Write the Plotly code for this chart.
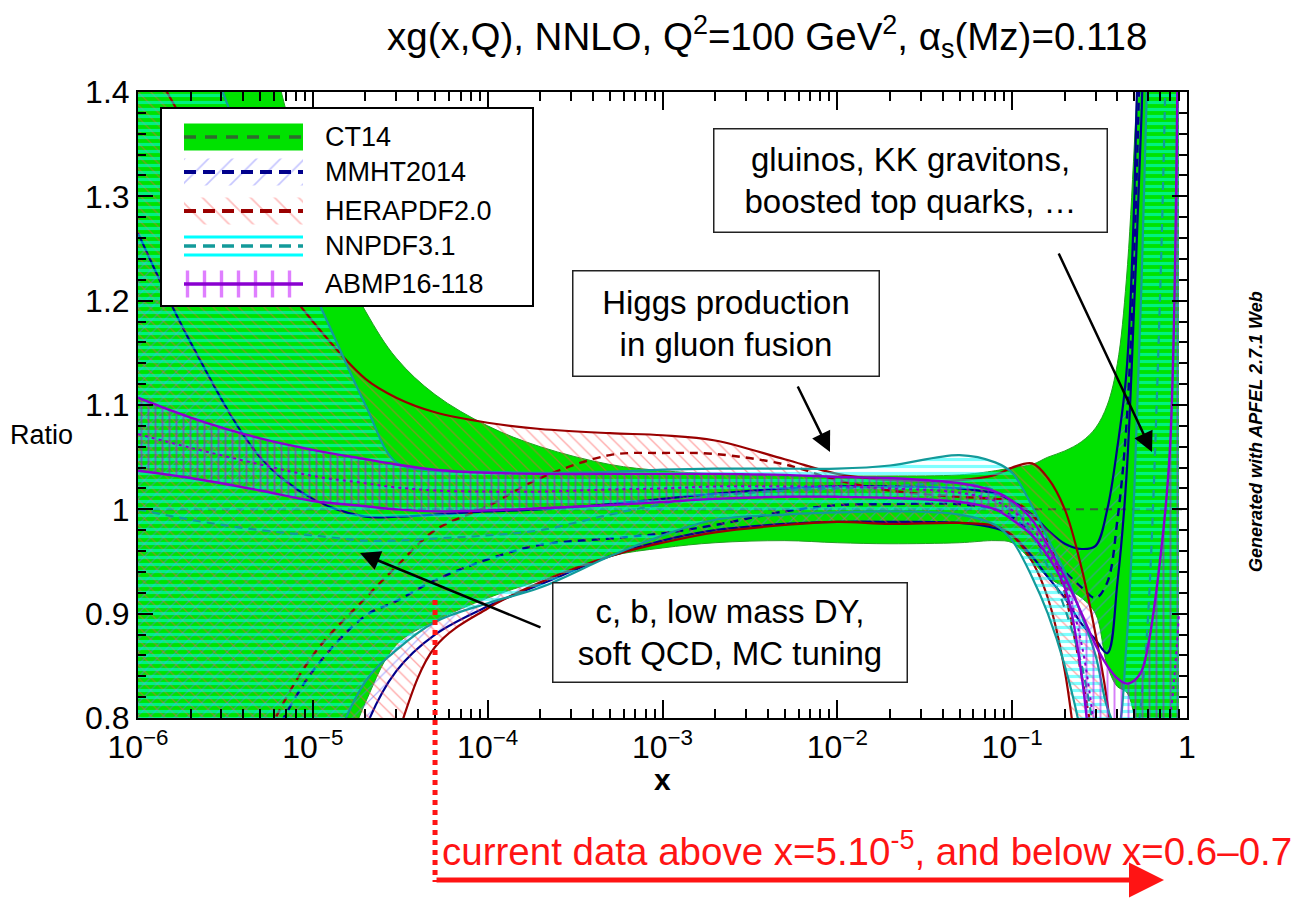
import plotly.graph_objects as go
import math

# ---------------- data (ratio to CT14) ----------------
X = [1e-6, 2e-6, 5e-6, 1e-5, 2e-5, 3e-5, 5e-5, 1e-4, 2e-4, 5e-4, 1e-3, 2e-3, 5e-3,
     1e-2, 2e-2, 5e-2, 0.08, 0.1, 0.13, 0.16, 0.2, 0.25, 0.3, 0.35, 0.4, 0.45,
     0.5, 0.55, 0.6, 0.7, 0.8, 0.9]

CT14_UP = [1.62, 1.56, 1.46, 1.29, 1.19, 1.145, 1.11, 1.08, 1.06, 1.043, 1.037, 1.034, 1.032,
           1.032, 1.032, 1.033, 1.037, 1.040, 1.043, 1.050, 1.056, 1.065, 1.078, 1.10, 1.14, 1.22,
           1.35, 1.5, 1.65, 1.8, 1.9, 1.95]
CT14_LO = [0.6, 0.6, 0.6, 0.68, 0.815, 0.87, 0.893, 0.915, 0.932, 0.955, 0.963, 0.968, 0.97,
           0.968, 0.967, 0.968, 0.97, 0.968, 0.95, 0.935, 0.925, 0.915, 0.9, 0.85, 0.83, 0.825,
           0.8, 0.7, 0.6, 0.55, 0.5, 0.5]
CT14_CX = [1e-6, 1.0]
CT14_CY = [1.0, 1.0]

MMHT_UP = [1.265, 1.16, 1.05, 1.01, 0.993, 0.993, 0.995, 0.998, 1.0, 1.005, 1.01, 1.015, 1.02,
           1.022, 1.022, 1.02, 1.015, 1.008, 0.995, 0.98, 0.967, 0.962, 0.965, 1.0, 1.06, 1.13,
           1.3, 1.6, 1.8, 1.9, 1.95, 2.0]
MMHT_LO = [0.4, 0.4, 0.45, 0.6, 0.79, 0.845, 0.88, 0.907, 0.928, 0.955, 0.97, 0.98, 0.986,
           0.988, 0.988, 0.987, 0.982, 0.975, 0.955, 0.935, 0.915, 0.89, 0.875, 0.862, 0.93, 1.03,
           1.2, 1.38, 1.6, 1.9, 1.95, 2.0]
MMHT_C = [0.55, 0.65, 0.76, 0.845, 0.898, 0.912, 0.932, 0.952, 0.966, 0.972, 0.977, 0.985, 0.998,
          1.004, 1.005, 1.005, 1.0, 0.993, 0.975, 0.955, 0.94, 0.925, 0.915, 0.93, 0.99, 1.08,
          1.25, 1.5, 1.75, 1.9, 1.95, 2.0]

HERA_UP = [1.45, 1.36, 1.248, 1.18, 1.125, 1.107, 1.093, 1.083, 1.077, 1.073, 1.071, 1.066, 1.048,
           1.034, 1.028, 1.028, 1.033, 1.04, 1.044, 1.03, 1.0, 0.943, 0.88, 0.815, 0.72, 0.6,
           0.5, 0.5, 0.5, 0.5, 0.5, 0.5]
HERA_LO = [0.4, 0.4, 0.4, 0.5, 0.68, 0.78, 0.868, 0.905, 0.93, 0.955, 0.968, 0.978, 0.985,
           0.988, 0.986, 0.987, 0.984, 0.975, 0.95, 0.915, 0.845, 0.72, 0.6, 0.5, 0.5, 0.5,
           0.5, 0.5, 0.5, 0.5, 0.5, 0.5]
HERA_C = [0.45, 0.6, 0.77, 0.86, 0.915, 0.945, 0.98, 1.003, 1.03, 1.052, 1.054, 1.053, 1.043,
          1.028, 1.018, 1.012, 1.01, 1.008, 0.995, 0.97, 0.92, 0.84, 0.76, 0.65, 0.5, 0.5,
          0.5, 0.5, 0.5, 0.5, 0.5, 0.5]

NNPDF_UP = [1.6, 1.48, 1.31, 1.21, 1.10, 1.045, 1.037, 1.036, 1.035, 1.036, 1.038, 1.039, 1.039,
            1.039, 1.042, 1.052, 1.045, 1.035, 1.003, 0.972, 0.94, 0.898, 0.86, 0.81, 0.79, 0.87,
            1.02, 1.22, 1.45, 1.7, 1.9, 1.95]
NNPDF_LO = [0.55, 0.55, 0.55, 0.72, 0.835, 0.865, 0.892, 0.91, 0.925, 0.955, 0.975, 0.99, 0.995,
            0.997, 0.998, 0.995, 0.985, 0.97, 0.935, 0.9, 0.85, 0.78, 0.65, 0.5, 0.5, 0.5,
            0.5, 0.5, 0.5, 0.5, 0.5, 0.5]
NNPDF_C = [1.0, 0.99, 0.98, 0.975, 0.97, 0.97, 0.972, 0.975, 0.98, 0.995, 1.005, 1.013, 1.018,
           1.02, 1.022, 1.025, 1.018, 1.005, 0.975, 0.945, 0.905, 0.85, 0.78, 0.72, 0.7, 0.72,
           0.76, 0.82, 0.9, 1.2, 1.6, 1.9]

ABMP_UP = [1.107, 1.088, 1.068, 1.057, 1.048, 1.043, 1.038, 1.035, 1.034, 1.034, 1.034, 1.034, 1.033,
           1.031, 1.03, 1.025, 1.017, 1.008, 0.99, 0.965, 0.935, 0.9, 0.87, 0.85, 0.838, 0.833,
           0.836, 0.845, 0.87, 0.95, 1.06, 1.6]
ABMP_LO = [1.037, 1.03, 1.018, 1.008, 1.003, 1.0, 0.998, 0.999, 1.001, 1.004, 1.007, 1.01, 1.012,
           1.012, 1.011, 1.007, 1.0, 0.99, 0.975, 0.955, 0.925, 0.84, 0.7, 0.5, 0.5, 0.5,
           0.5, 0.5, 0.5, 0.5, 0.5, 0.5]
ABMP_C = [1.072, 1.059, 1.043, 1.032, 1.025, 1.021, 1.018, 1.017, 1.017, 1.019, 1.02, 1.022, 1.022,
          1.022, 1.02, 1.016, 1.008, 0.999, 0.982, 0.96, 0.93, 0.87, 0.78, 0.68, 0.65, 0.66,
          0.67, 0.68, 0.7, 0.75, 0.8, 0.9]

SERIES = ["CT14", "MMHT2014", "HERAPDF2.0", "NNPDF3.1", "ABMP16-118"]

XT = [1e-6, 1e-5, 1e-4, 1e-3, 1e-2, 1e-1, 1.0]
XT_TEXT = ["10<sup>\u22126</sup>", "10<sup>\u22125</sup>", "10<sup>\u22124</sup>", "10<sup>\u22123</sup>",
           "10<sup>\u22122</sup>", "10<sup>\u22121</sup>", "1"]
YT = [0.8, 0.9, 1.0, 1.1, 1.2, 1.3, 1.4]
YT_TEXT = ["0.8", "0.9", "1", "1.1", "1.2", "1.3", "1.4"]
X_DATA_LIMIT = 5e-5

# ---------------- styling ----------------
GREEN = "#00e200"
NAVY = "#00008c"
DRED = "#9a0000"
TEAL = "#139a9a"
PURP = "#8a00d0"
FONT = "Liberation Sans, Arial, Helvetica, sans-serif"

W, H = 1312, 909
L, R, T, B = 138, 1187, 92, 718


def fx(px):
    return (px - L) / (R - L)


def fy(py):
    return (B - py) / (B - T)


fig = go.Figure()


def add_band(lo, up, edge, ew, fillcolor=None, pattern=None):
    fig.add_trace(go.Scatter(x=X, y=lo, mode="lines",
                             line=dict(color=edge, width=ew, shape="spline"),
                             hoverinfo="skip", showlegend=False))
    kw = dict(fillcolor=fillcolor if fillcolor else "rgba(0,0,0,0)")
    if pattern:
        kw["fillpattern"] = pattern
    fig.add_trace(go.Scatter(x=X, y=up, mode="lines", fill="tonexty",
                             line=dict(color=edge, width=ew, shape="spline"),
                             hoverinfo="skip", showlegend=False, **kw))


def add_central(y, color, width=2.2, dash="8px,6px", x=None):
    fig.add_trace(go.Scatter(x=X if x is None else x, y=y, mode="lines",
                             line=dict(color=color, width=width, dash=dash, shape="spline"),
                             hoverinfo="skip", showlegend=False))


# CT14
add_band(CT14_LO, CT14_UP, "#22a022", 1, fillcolor=GREEN)
add_central(CT14_CY, "#3c5a3c", 2, x=CT14_CX)
# MMHT
add_band(MMHT_LO, MMHT_UP, NAVY, 2.2,
         pattern=dict(shape="/", fgcolor="#6b6bff", bgcolor="rgba(0,0,0,0)", size=9, solidity=0.14))
add_central(MMHT_C, NAVY, 2.4)
# HERAPDF
add_band(HERA_LO, HERA_UP, DRED, 2.2,
         pattern=dict(shape="\\", fgcolor="#ff4a4a", bgcolor="rgba(0,0,0,0)", size=9, solidity=0.14))
add_central(HERA_C, DRED, 2.4)
# NNPDF
add_band(NNPDF_LO, NNPDF_UP, TEAL, 2.2,
         pattern=dict(shape="-", fgcolor="#00ffff", bgcolor="rgba(0,0,0,0)", size=7, solidity=0.45))
add_central(NNPDF_C, TEAL, 2.2)
# ABMP
add_band(ABMP_LO, ABMP_UP, PURP, 2.4,
         pattern=dict(shape="|", fgcolor="#b000f0", bgcolor="rgba(0,0,0,0)", size=7, solidity=0.28))
add_central(ABMP_C, PURP, 2.0, dash="3px,4px")

# ---------------- legend (inset) ----------------
LEG_W, LEG_H = 370, 196
LEG_X0, LEG_X1 = 22, 141
LEG_YC = [168, 133, 94, 59, 21]
LEG_HALF = 13.5


def lx(series_x, series_y, **kw):
    fig.add_trace(go.Scatter(x=series_x, y=series_y, xaxis="x2", yaxis="y2",
                             hoverinfo="skip", showlegend=False, **kw))


lx([0, LEG_W, LEG_W, 0, 0], [0, 0, LEG_H, LEG_H, 0], mode="lines", fill="toself",
   fillcolor="white", line=dict(width=0))
rect_x = [LEG_X0, LEG_X1, LEG_X1, LEG_X0, LEG_X0]


def rect_y(c):
    return [c - LEG_HALF, c - LEG_HALF, c + LEG_HALF, c + LEG_HALF, c - LEG_HALF]


# CT14
lx(rect_x, rect_y(LEG_YC[0]), mode="lines", fill="toself", fillcolor=GREEN, line=dict(width=0))
lx([LEG_X0, LEG_X1], [LEG_YC[0]] * 2, mode="lines", line=dict(color="#2f6a2f", width=3.5, dash="12px,9px"))
# MMHT
lx(rect_x, rect_y(LEG_YC[1]), mode="lines", fill="toself", fillcolor="rgba(0,0,0,0)",
   fillpattern=dict(shape="/", fgcolor="#8c8cff", bgcolor="rgba(0,0,0,0)", size=17, solidity=0.1),
   line=dict(width=0))
lx([LEG_X0, LEG_X1], [LEG_YC[1]] * 2, mode="lines", line=dict(color=NAVY, width=4, dash="12px,7px"))
# HERAPDF
lx(rect_x, rect_y(LEG_YC[2]), mode="lines", fill="toself", fillcolor="rgba(0,0,0,0)",
   fillpattern=dict(shape="\\", fgcolor="#ff7a7a", bgcolor="rgba(0,0,0,0)", size=17, solidity=0.1),
   line=dict(width=0))
lx([LEG_X0, LEG_X1], [LEG_YC[2]] * 2, mode="lines", line=dict(color=DRED, width=4, dash="12px,7px"))
# NNPDF
lx([LEG_X0, LEG_X1], [LEG_YC[3] + 9] * 2, mode="lines", line=dict(color="#00ffff", width=3))
lx([LEG_X0, LEG_X1], [LEG_YC[3] - 9] * 2, mode="lines", line=dict(color="#00ffff", width=3))
lx([LEG_X0, LEG_X1], [LEG_YC[3]] * 2, mode="lines", line=dict(color=TEAL, width=3.5, dash="12px,7px"))
# ABMP
lx(rect_x, rect_y(LEG_YC[4]), mode="lines", fill="toself", fillcolor="rgba(0,0,0,0)",
   fillpattern=dict(shape="|", fgcolor="#c000ff", bgcolor="rgba(0,0,0,0)", size=17, solidity=0.2),
   line=dict(width=0))
lx([LEG_X0, LEG_X1], [LEG_YC[4]] * 2, mode="lines", line=dict(color=PURP, width=3.5))

annotations = []
for name, yc in zip(SERIES, LEG_YC):
    annotations.append(dict(x=161, y=yc, xref="x2", yref="y2", text=name, showarrow=False,
                            xanchor="left", yanchor="middle",
                            font=dict(family=FONT, size=27, color="black")))


def txt(px, py, text, size, color="black", xanchor="center", **kw):
    return dict(x=fx(px), y=fy(py), xref="paper", yref="paper", text=text, showarrow=False,
                xanchor=xanchor, yanchor="middle", font=dict(family=FONT, size=size, color=color), **kw)


# ---------------- text & arrows ----------------
annotations += [
    txt(767, 37, "xg(x,Q), NNLO, Q<sup>2</sup>=100 GeV<sup>2</sup>, \u03b1<sub>s</sub>(Mz)=0.118", 38.5),
    txt(41, 435, "Ratio", 27),
    txt(662, 779, "<b>x</b>", 30),
    txt(1256, 432, "<b><i>Generated with APFEL 2.7.1 Web</i></b>", 18, textangle=-90),
    txt(440, 849, "current data above x=5.10<sup>-5</sup>, and below x=0.6\u20130.7", 38.5,
        color="#ff1414", xanchor="left"),
]

BOXES = [
    ("gluinos, KK gravitons,<br>boosted top quarks, \u2026", 713, 128, 1108, 233),
    ("Higgs production<br>in gluon fusion", 572, 270, 880, 377),
    ("c, b, low mass DY,<br>soft QCD, MC tuning", 552, 582, 908, 683),
]
for t, x0, y0, x1, y1 in BOXES:
    annotations.append(txt((x0 + x1) / 2, (y0 + y1) / 2, t, 33, width=x1 - x0 - 3, height=y1 - y0 - 3,
                           bgcolor="white", bordercolor="#222222", borderwidth=1.5, borderpad=0))

ARROWS = [((1058, 252), (1152, 452)), ((797, 385), (830, 452)), ((542, 628), (360, 553))]
for (tx, ty), (hx, hy) in ARROWS:
    annotations.append(dict(x=fx(hx), y=fy(hy), xref="paper", yref="paper", ax=tx - hx, ay=ty - hy,
                            axref="pixel", ayref="pixel", showarrow=True, arrowhead=2,
                            arrowsize=1.6, arrowwidth=2.5, arrowcolor="black", text=""))

x_lim_paper = (math.log10(X_DATA_LIMIT) + 6) / 6
annotations.append(dict(x=fx(1164), y=fy(880), xref="paper", yref="paper",
                        ax=(L + x_lim_paper * (R - L)) - 1164, ay=0, axref="pixel", ayref="pixel",
                        showarrow=True, arrowhead=2, arrowsize=1.4, arrowwidth=5,
                        arrowcolor="#ff1414", text=""))

shapes = [dict(type="line", xref="paper", yref="paper", x0=x_lim_paper, x1=x_lim_paper,
               y0=fy(600), y1=fy(882), line=dict(color="#ff1414", width=5, dash="dot"))]

XMINOR = [k * 10 ** e for e in range(-6, 0) for k in range(2, 10)]

axis_common = dict(showline=True, linecolor="black", linewidth=2, mirror="allticks",
                   showgrid=False, zeroline=False, ticks="inside", tickcolor="black",
                   tickwidth=2, tickfont=dict(family=FONT, size=32, color="black"))

fig.update_layout(
    width=W, height=H, autosize=False,
    margin=dict(l=L, r=W - R, t=T, b=H - B),
    paper_bgcolor="white", plot_bgcolor="white", showlegend=False,
    xaxis=dict(type="log", range=[-6, 0], tickvals=XT, ticktext=XT_TEXT, ticklen=18,
               minor=dict(tickvals=XMINOR, ticks="inside", ticklen=9, tickwidth=1.5,
                          tickcolor="black", showgrid=False),
               **axis_common),
    yaxis=dict(range=[0.8, 1.4], tickvals=YT, ticktext=YT_TEXT, ticklen=15,
               minor=dict(dtick=0.02, tick0=0.8, ticks="inside", ticklen=8, tickwidth=1.5,
                          tickcolor="black", showgrid=False),
               **axis_common),
    xaxis2=dict(domain=[fx(162), fx(532)], range=[0, LEG_W], anchor="y2", showline=True, mirror=True,
                linecolor="black", linewidth=2, showticklabels=False, ticks="", showgrid=False,
                zeroline=False, fixedrange=True),
    yaxis2=dict(domain=[fy(305), fy(109)], range=[0, LEG_H], anchor="x2", showline=True, mirror=True,
                linecolor="black", linewidth=2, showticklabels=False, ticks="", showgrid=False,
                zeroline=False, fixedrange=True),
    annotations=annotations,
    shapes=shapes,
)

fig.write_html("out.html")
